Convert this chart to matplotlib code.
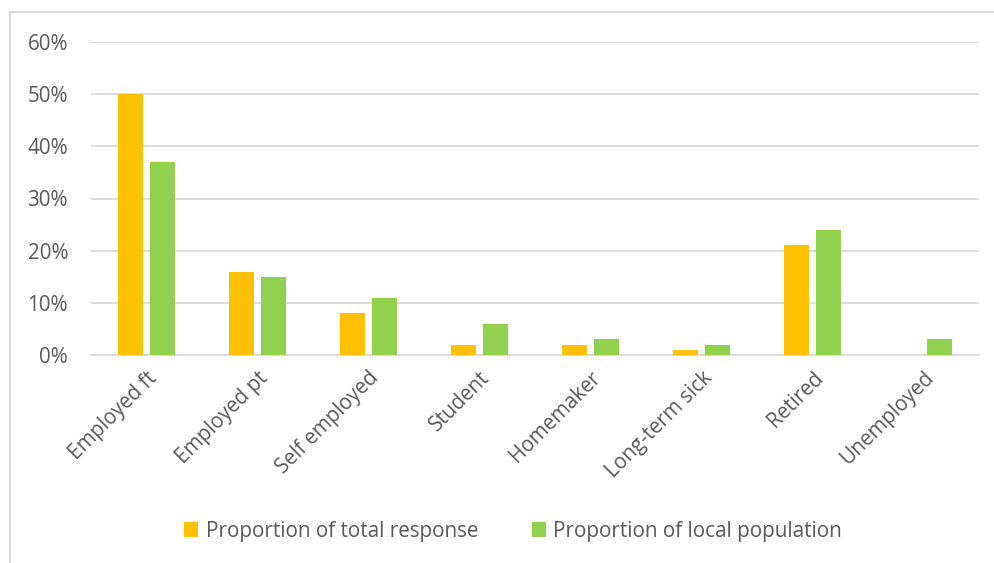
import matplotlib
matplotlib.use("Agg")
import matplotlib.pyplot as plt
import numpy as np
from matplotlib.patches import Rectangle, Patch

categories = ["Employed ft", "Employed pt", "Self employed", "Student", "Homemaker",
              "Long-term sick", "Retired", "Unemployed"]
total_response = [50, 16, 8, 2, 2, 1, 21, 0]
local_population = [37, 15, 11, 6, 3, 2, 24, 3]
series_names = ["Proportion of total response", "Proportion of local population"]
yticks = [0, 10, 20, 30, 40, 50, 60]

ORANGE = "#FFC000"
GREEN = "#92D050"
TEXT = "#595959"
GRID = "#D9D9D9"
FS = 14.9

plt.rcParams["font.family"] = ["Open Sans", "DejaVu Sans"]

W, H = 994, 563
fig = plt.figure(figsize=(W / 100, H / 100), dpi=100)

# chart frame
fig.patches.append(Rectangle((10 / W, -0.1), 1.2, 1 - 12 / H + 0.1, transform=fig.transFigure,
                             fill=False, edgecolor=GRID, linewidth=1.5, zorder=0))

ax = fig.add_axes([91 / W, 1 - 355 / H, (979 - 91) / W, (355 - 42) / H])
x = np.arange(len(categories))
bw = 0.225
gap = 0.063
ax.bar(x - (bw + gap) / 2, total_response, width=bw, color=ORANGE, zorder=3)
ax.bar(x + (bw + gap) / 2, local_population, width=bw, color=GREEN, zorder=3)

ax.set_xlim(-0.5, len(categories) - 0.5)
ax.set_ylim(0, 60)
ax.set_yticks(yticks)
ax.set_yticklabels([f"{v}%" for v in yticks], color=TEXT, fontsize=FS)
ax.yaxis.grid(True, color=GRID, linewidth=1.3, zorder=0)
ax.set_axisbelow(True)
for s in ax.spines.values():
    s.set_visible(False)
ax.spines["bottom"].set_visible(True)
ax.spines["bottom"].set_color(GRID)
ax.spines["bottom"].set_linewidth(1.3)
ax.tick_params(axis="both", length=0)
ax.tick_params(axis="y", pad=16.5)
ax.set_xticks(x)
ax.set_xticklabels(categories, rotation=45, ha="right", rotation_mode="anchor",
                   color=TEXT, fontsize=FS)
ax.tick_params(axis="x", pad=9)

handles = [Patch(facecolor=ORANGE), Patch(facecolor=GREEN)]
fig.legend(handles, series_names, loc="center", bbox_to_anchor=(513 / W, 1 - 531 / H),
           ncol=2, frameon=False, fontsize=FS, labelcolor=TEXT,
           handlelength=0.7, handleheight=0.7, handletextpad=0.35, columnspacing=2.6)

fig.savefig("out.png", dpi=100, facecolor="white")
